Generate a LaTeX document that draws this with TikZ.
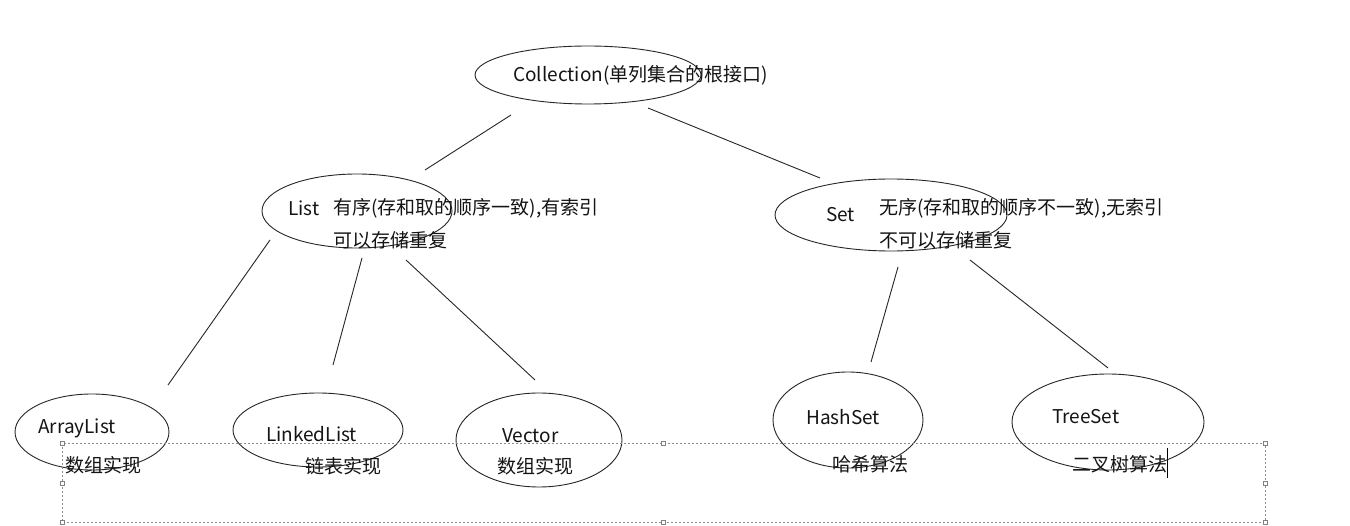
\documentclass[tikz,border=0pt]{standalone}
\usepackage{fontspec}
\setmainfont{Noto Sans CJK SC}
\begin{document}
\begin{tikzpicture}[x=1pt,y=-1pt,
  ell/.style={draw=black!85,line width=0.9pt},
  lbl/.style={font=\fontsize{19}{23}\selectfont,text=black!92,inner sep=0pt,anchor=west},
  conn/.style={draw=black!85,line width=0.9pt},
  sel/.style={draw=black!45,dash pattern=on 2pt off 2pt,line width=0.6pt},
  handle/.style={draw=black!50,fill=white,line width=0.5pt,minimum size=4pt,inner sep=0pt,rectangle}]
\useasboundingbox[fill=white] (0,0) rectangle (1350,526);
% ellipses
\draw[ell] (588,75) ellipse [x radius=113, y radius=29];
\draw[ell] (357,211) ellipse [x radius=95, y radius=37];
\draw[ell] (891,215) ellipse [x radius=116, y radius=36];
\draw[ell] (92,432) ellipse [x radius=77, y radius=38];
\draw[ell] (318,430) ellipse [x radius=85, y radius=37];
\draw[ell] (539,440) ellipse [x radius=83, y radius=47];
\draw[ell] (848,420) ellipse [x radius=75, y radius=48];
\draw[ell] (1108,422) ellipse [x radius=96, y radius=48];
% texts
\node[lbl] (coll) at (513,75) {Collection(单列集合的根接口)};
\node[lbl] (list) at (288,208) {List};
\node[lbl] (listd1) at (333,208) {有序(存和取的顺序一致),有索引};
\node[lbl] (listd2) at (333,240) {可以存储重复};
\node[lbl] (set) at (826,215) {Set};
\node[lbl] (setd1) at (879,208) {无序(存和取的顺序不一致),无索引};
\node[lbl] (setd2) at (879,240) {不可以存储重复};
\node[lbl] (al) at (38,428) {ArrayList};
\node[lbl] (ald) at (65,465) {数组实现};
\node[lbl] (ll) at (266,434) {LinkedList};
\node[lbl] (lld) at (305,466) {链表实现};
\node[lbl] (vec) at (502,436) {Vector};
\node[lbl] (vecd) at (497,466) {数组实现};
\node[lbl] (hs) at (806,417) {HashSet};
\node[lbl] (hsd) at (832,464) {哈希算法};
\node[lbl] (ts) at (1052,417) {TreeSet};
\node[lbl] (tsd) at (1072,464) {二叉树算法};
% connector end points
\coordinate (c1a) at (511,115); \coordinate (c1b) at (425,170);
\coordinate (c2a) at (648,108); \coordinate (c2b) at (820,178);
\coordinate (l1a) at (270,240); \coordinate (l1b) at (168,385);
\coordinate (l2a) at (362,258); \coordinate (l2b) at (333,365);
\coordinate (l3a) at (406,260); \coordinate (l3b) at (535,380);
\coordinate (s1a) at (898,267); \coordinate (s1b) at (871,362);
\coordinate (s2a) at (970,260); \coordinate (s2b) at (1108,368);
\draw[conn] (c1a) -- (c1b);
\draw[conn] (c2a) -- (c2b);
\draw[conn] (l1a) -- (l1b);
\draw[conn] (l2a) -- (l2b);
\draw[conn] (l3a) -- (l3b);
\draw[conn] (s1a) -- (s1b);
\draw[conn] (s2a) -- (s2b);
% text cursor
\coordinate (cur1) at (1167,448); \coordinate (cur2) at (1167,478);
\draw[line width=0.8pt] (cur1) -- (cur2);
% selection frame
\coordinate (sa) at (62,443); \coordinate (sb) at (1265,522);
\draw[sel] (sa) rectangle (sb);
\foreach \p in {(62,443),(663,443),(1265,443),(62,483),(1265,483),(62,522),(663,522),(1265,522)}
  \node[handle] at \p {};
\end{tikzpicture}
\end{document}
